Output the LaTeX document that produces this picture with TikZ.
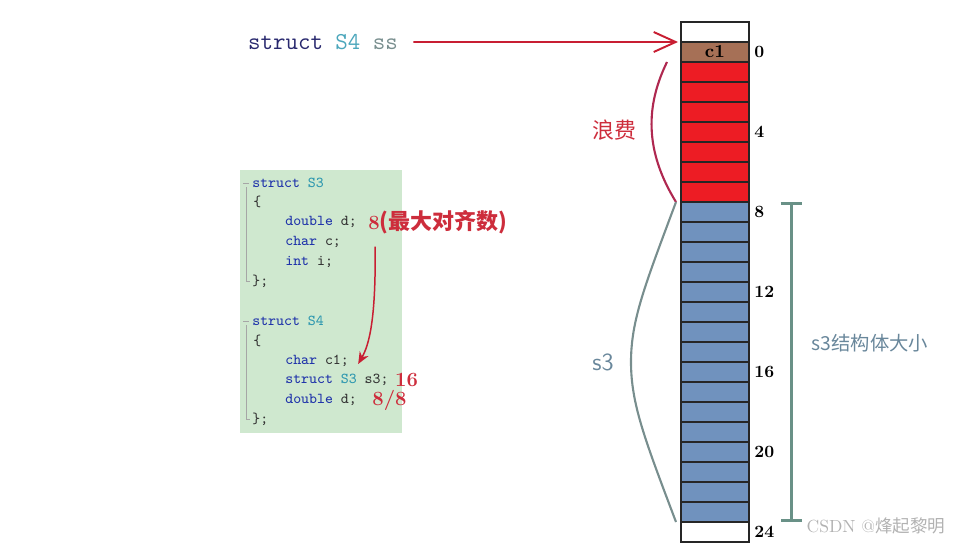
\documentclass[tikz,border=0pt]{standalone}
\usepackage{fontspec}
\newfontfamily\cjk{Noto Sans CJK SC}
\usetikzlibrary{arrows.meta,positioning}
\definecolor{wastered}{RGB}{237,28,36}
\definecolor{slotblue}{RGB}{112,146,190}
\definecolor{cbrown}{RGB}{166,112,86}
\definecolor{codebg}{RGB}{207,232,207}
\definecolor{arrred}{RGB}{200,30,50}
\definecolor{notered}{RGB}{205,45,60}
\definecolor{bracered}{RGB}{175,40,80}
\definecolor{s3gray}{RGB}{120,142,142}
\definecolor{sizegray}{RGB}{105,145,135}
\definecolor{labelblue}{RGB}{105,135,155}
\definecolor{kwblue}{RGB}{30,50,170}
\definecolor{typeteal}{RGB}{43,150,175}
\definecolor{navy}{RGB}{40,40,110}
\newcommand{\kw}[1]{\textcolor{kwblue}{#1}}
\newcommand{\ty}[1]{\textcolor{typeteal}{#1}}

\begin{document}
\begin{tikzpicture}[
   x=0.2mm, y=-0.2mm,
   cell/.style={draw=black!85, line width=0.6pt, minimum width=13.6mm,
      minimum height=4mm, inner sep=0pt, outer sep=0pt,
      font=\fontsize{10.5}{11}\selectfont\bfseries},
   offs/.style={inner sep=0pt, font=\fontsize{9.8}{10}\selectfont\bfseries},
   codeline/.style={anchor=west, inner sep=0pt, text=black!80,
      font=\fontsize{8.6}{10}\selectfont\ttfamily},
   note/.style={inner sep=0pt, text=notered,
      font=\fontsize{11.5}{12}\selectfont\bfseries},
   ptr/.style={-{Straight Barb[length=4.4mm,width=4mm]}, line width=1.1pt,
      draw=arrred},
   brace/.style={line width=1.2pt},
   gutter/.style={draw=black!35, line width=0.5pt}
]
\useasboundingbox (0,0) rectangle (958,545);

% memory column
\node[cell, fill=white] (top) at (715,32) {};
\node[cell, fill=cbrown] (b0) at (715,52) {c1};
\foreach \k in {1,...,7}
   \node[cell, fill=wastered] (b\k) at (715,{52+20*\k}) {};
\foreach \k in {8,...,23}
   \node[cell, fill=slotblue] (b\k) at (715,{52+20*\k}) {};
\node[cell, fill=white] (b24) at (715,532) {};
\foreach \k in {0,4,...,24}
   \node[offs, right=1mm of b\k] (o\k) {\k};

% struct S4 ss
\node[inner sep=0pt, font=\fontsize{13.8}{15}\selectfont\ttfamily] (ss) at (323,42)
   {\textcolor{navy}{struct} \textcolor{typeteal!85}{S4} \textcolor{s3gray}{ss}};
\draw[ptr, shorten <=3mm] (ss) -- ([xshift=-0.6mm]b0.north west);

% waste and s3 curves
\node[text=notered, font=\cjk\fontsize{12.5}{14}\selectfont] (waste) at (614,130) {浪费};
\draw[brace, draw=bracered] ([xshift=-2.8mm]b1.north west)
   .. controls (646,105) and (644,150) .. ([xshift=-1mm]b7.south west);
\node[text=labelblue, font=\sffamily\fontsize{14}{15}\selectfont] (s3) at (603,362) {s3};
\draw[brace, draw=s3gray] ([xshift=-1mm]b8.north west)
   .. controls (645,285) and (631,320) .. (631,362)
   .. controls (631,404) and (645,440) .. ([xshift=-1mm]b23.south west);

% size of s3
\draw[{Bar[width=4.2mm]}-{Bar[width=4.2mm]}, draw=sizegray, line width=1.7pt]
   ([xshift=8.4mm]b8.north east) -- ([xshift=8.4mm]b23.south east);
\node[text=labelblue, font=\cjk\fontsize{11}{12}\selectfont] (size) at (870,343) {s3结构体大小};

% code
\node[fill=codebg, minimum width=32.4mm, minimum height=52.6mm, inner sep=0pt] (code)
   at (321,301.5) {};
\draw[gutter] (243,183) -- (249,183) (246,187) -- (246,281) -- (250,281);
\draw[gutter] (243,321) -- (249,321) (246,325) -- (246,419) -- (250,419);
\node[codeline] (l1) at (252,183) {\kw{struct} \ty{S3}};
\node[codeline] (l2) at (253,202) {\{};
\node[codeline] (l3) at (285,222) {\kw{double} d;};
\node[codeline] (l4) at (285,242) {\kw{char} c;};
\node[codeline] (l5) at (285,262) {\kw{int} i;};
\node[codeline] (l6) at (252,281) {\};};
\node[codeline] (l7) at (252,321) {\kw{struct} \ty{S4}};
\node[codeline] (l8) at (253,341) {\{};
\node[codeline] (l9) at (285,361) {\kw{char} c1;};
\node[codeline] (l10) at (285,380) {\kw{struct} \ty{S3} s3;};
\node[codeline] (l11) at (285,400) {\kw{double} d;};
\node[codeline] (l12) at (252,419) {\};};

\node[note, anchor=west, right=2.2mm of l3] (n8) {8{\cjk\fontsize{12.5}{13}\selectfont(最大对齐数)}};
\node[note, anchor=west, right=1.2mm of l10] (n16) {16};
\node[note, anchor=west, right=3mm of l11] (n88) {8/8};
\draw[-{Stealth[length=2.4mm,width=2mm]}, draw=arrred, line width=0.85pt]
   ([xshift=1.4mm,yshift=-2.5mm]n8.south west)
   .. controls (376,320) and (369,345) .. ([xshift=1.8mm,yshift=-0.6mm]l9.east);

\node[text=black!30, font=\fontsize{10}{11}\selectfont] (mark) at (876,526)
   {CSDN @{\cjk 烽起黎明}};
\end{tikzpicture}
\end{document}
